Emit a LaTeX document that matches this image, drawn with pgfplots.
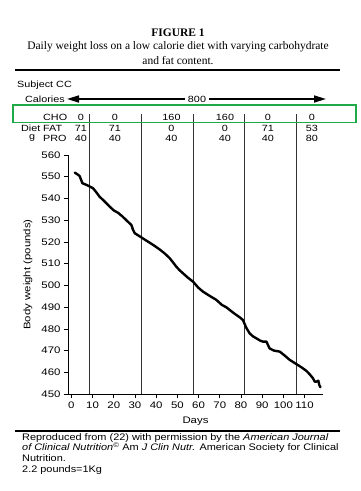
\documentclass[border=0pt]{standalone}
\usepackage{pgfplots}
\pgfplotsset{compat=1.18}
\usepackage{fontspec}
\setmainfont{Liberation Serif}
\newfontfamily\cs{Liberation Sans}[FakeStretch=1.2]
\newfontfamily\fs{Liberation Sans}[FakeStretch=1.15]
\usetikzlibrary{arrows.meta}
\definecolor{boxgreen}{RGB}{30,170,70}

\begin{document}
\begin{tikzpicture}
\useasboundingbox (0pt,0pt) rectangle (360pt,491pt);
% title block
\node[font=\bfseries\fontsize{11.5}{13}\selectfont] at (178pt,458pt) {FIGURE 1};
\node[font=\fontsize{11.5}{13}\selectfont] at (178pt,444pt) {Daily weight loss on a low calorie diet with varying carbohydrate};
\node[font=\fontsize{11.5}{13}\selectfont] at (178pt,430pt) {and fat content.};
\draw[line width=1.2pt] (15pt,421pt) -- (340pt,421pt);
% diet table
\tikzset{tl/.style={font=\cs\fontsize{9}{10}\selectfont, inner sep=0pt}}
\node[tl, anchor=west] at (17pt,406pt) {Subject CC};
\node[tl, anchor=east] at (65pt,392pt) {Calories};
\draw[line width=1.6pt, {Triangle[length=12pt,width=7pt]}-{Triangle[length=12pt,width=7pt]}] (67pt,392pt) -- (326pt,392pt);
\node[tl, fill=white, inner xsep=3pt, inner ysep=1pt] at (197pt,392pt) {800};
\node[tl, anchor=west] at (43pt,374pt) {CHO};
\node[tl, anchor=west] at (21pt,363pt) {Diet};
\node[tl, anchor=west] at (43pt,363pt) {FAT};
\node[tl, anchor=west] at (29pt,352.5pt) {g};
\node[tl, anchor=west] at (43pt,352.5pt) {PRO};
\foreach \xx/\a/\b/\c in {81/0/71/40, 115/0/71/40, 171.5/160/0/40, 225/160/0/40, 268/0/71/40, 312/0/53/80}{
  \node[tl] at (\xx pt,374pt) {\a};
  \node[tl] at (\xx pt,363pt) {\b};
  \node[tl] at (\xx pt,352.5pt) {\c};
}
\begin{axis}[
  at={(68pt,97pt)}, anchor=south west,
  scale only axis, width=255pt, height=239pt,
  xmin=-1.6, xmax=118.7, ymin=450, ymax=560,
  axis lines*=left, axis line style={-, line width=0.7pt},
  xtick={0,10,...,110}, ytick={450,460,...,560},
  tick align=outside, major tick length=4pt,
  tick style={black, line width=0.6pt},
  ticklabel style={font=\cs\fontsize{9.5}{10}\selectfont},
  /pgf/number format/assume math mode=true,
  xlabel={Days}, ylabel={Body weight (pounds)},
  label style={font=\cs\fontsize{9.5}{10}\selectfont},
  xlabel style={at={(axis description cs:0.5,-0.113)}, anchor=center},
  ylabel style={at={(axis description cs:-0.157,0.5)}, anchor=center},
  clip=false,
]
\addplot[black!80, line width=0.7pt] coordinates {(8.3,450) (8.3,579)};
\addplot[black!80, line width=0.7pt] coordinates {(33,450) (33,579)};
\addplot[black!80, line width=0.7pt] coordinates {(57.4,450) (57.4,579)};
\addplot[black!80, line width=0.7pt] coordinates {(81.8,450) (81.8,579)};
\addplot[black!80, line width=0.7pt] coordinates {(106.3,450) (106.3,579)};
\addplot[black, line width=2.4pt, line join=round, line cap=round] coordinates {
(1.6,551.9) (3.0,551.0) (3.9,550.3) (5.2,547.0) (6.5,546.5) (8.3,545.7)
(10.2,544.7) (11.8,542.8) (13.3,540.8) (15.5,538.8) (18.1,536.2) (20.0,534.5)
(22.0,533.4) (24.0,531.8) (25.9,530.0) (28.3,527.8) (29.1,525.5) (29.9,524.0)
(31.5,523.0) (33.0,522.1) (35.0,520.8) (37.0,519.6) (39.5,518.0) (41.7,516.5)
(44.0,514.7) (46.4,512.5) (48.0,510.5) (49.5,508.6) (51.0,507.0) (52.6,505.6)
(55.0,503.5) (57.4,501.7) (59.8,499.0) (62.1,497.1) (65.0,495.3) (68.4,493.3)
(71.0,491.0) (73.1,489.9) (76.5,487.3) (79.4,485.3) (80.9,484.1) (82.5,480.5)
(84.1,477.9) (85.7,476.5) (87.3,475.6) (89.0,474.6) (90.4,474.1) (92.0,474.1)
(93.5,471.0) (95.5,470.0) (98.3,469.5) (100.5,467.8) (103.0,465.7) (106.1,463.8)
(108.5,462.3) (110.8,460.7) (112.5,459.0) (114.0,457.2) (114.8,455.7) (115.6,455.7)
(116.5,456.1) (117.0,454.0) (117.5,453.1)
};
\end{axis}
% green highlight box
\draw[boxgreen, line width=1.8pt] (13pt,386pt) rectangle (356pt,368.5pt);
% footer
\draw[line width=1.2pt] (15pt,60pt) -- (340pt,60pt);
\node[anchor=north west, align=left, inner sep=0pt, font=\fs\fontsize{9.5}{10.8}\selectfont] at (22pt,58pt)
{Reproduced from (22) with permission by the \textit{American Journal}\\
\textit{of Clinical Nutrition}\textsuperscript{\textcopyright} Am \textit{J Clin Nutr.} American Society for Clinical\\
Nutrition.\\
2.2 pounds=1Kg};
\end{tikzpicture}
\end{document}
